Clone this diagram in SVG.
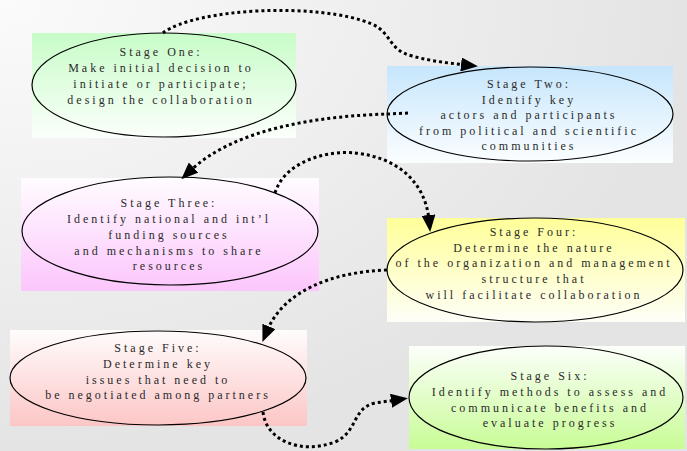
<svg xmlns="http://www.w3.org/2000/svg" width="687" height="451" viewBox="0 0 687 451">
<style>
.lbl{font-family:"Liberation Serif","Times New Roman",serif;font-size:12px;letter-spacing:3px;fill:#2a2a2a;text-anchor:middle}
.ell{fill:none;stroke:#000;stroke-width:1.2}
.con{fill:none;stroke:#000;stroke-width:3;stroke-dasharray:3 3;marker-end:url(#arr)}
</style>
<defs>
<radialGradient id="bg" cx="0" cy="0" r="1">
<stop offset="0" stop-color="#fbfbfb"/>
<stop offset="1" stop-color="#e4e4e4"/>
</radialGradient>
<linearGradient id="g1" x1="0" y1="0" x2="0" y2="1"><stop offset="0" stop-color="#c8fcc8"/><stop offset="1" stop-color="#fbfffb"/></linearGradient>
<linearGradient id="g2" x1="0" y1="0" x2="0" y2="1"><stop offset="0" stop-color="#c6e6fc"/><stop offset="1" stop-color="#fcfeff"/></linearGradient>
<linearGradient id="g3" x1="0" y1="0" x2="0" y2="1"><stop offset="0" stop-color="#fffcff"/><stop offset="1" stop-color="#fcc6fc"/></linearGradient>
<linearGradient id="g4" x1="0" y1="0" x2="0" y2="1"><stop offset="0" stop-color="#ffff99"/><stop offset="1" stop-color="#fefef8"/></linearGradient>
<linearGradient id="g5" x1="0" y1="0" x2="0" y2="1"><stop offset="0" stop-color="#fffcfc"/><stop offset="1" stop-color="#fcc6c6"/></linearGradient>
<linearGradient id="g6" x1="0" y1="0" x2="0" y2="1"><stop offset="0" stop-color="#fcfffa"/><stop offset="1" stop-color="#c8fc96"/></linearGradient>
<marker id="arr" markerUnits="userSpaceOnUse" markerWidth="17" markerHeight="14" viewBox="0 0 17 14" refX="5" refY="7" orient="auto">
<path d="M0,0 L17,7 L0,14 z" fill="#000"/>
</marker>
</defs>
<rect width="687" height="451" fill="url(#bg)"/>

<g id="stage1">
<rect x="32" y="33" width="264" height="105" fill="url(#g1)"/>
<ellipse class="ell" cx="164" cy="85" rx="132" ry="52"/>
<text class="lbl"><tspan x="161" y="56">Stage One:</tspan><tspan x="161" y="72">Make initial decision to</tspan><tspan x="161" y="88">initiate or participate;</tspan><tspan x="161" y="104">design the collaboration</tspan></text>
</g>

<g id="stage2">
<rect x="387" y="66" width="286" height="97" fill="url(#g2)"/>
<ellipse class="ell" cx="530" cy="114" rx="143" ry="47"/>
<text class="lbl"><tspan x="529" y="88">Stage Two:</tspan><tspan x="529" y="104">Identify key</tspan><tspan x="529" y="119">actors and participants</tspan><tspan x="529" y="135">from political and scientific</tspan><tspan x="529" y="150">communities</tspan></text>
</g>

<g id="stage3">
<rect x="21" y="178" width="298" height="113" fill="url(#g3)"/>
<ellipse class="ell" cx="170" cy="231" rx="148" ry="54"/>
<text class="lbl"><tspan x="169" y="207">Stage Three:</tspan><tspan x="169" y="223">Identify national and int’l</tspan><tspan x="169" y="239">funding sources</tspan><tspan x="169" y="255">and mechanisms to share</tspan><tspan x="169" y="270">resources</tspan></text>
</g>

<g id="stage4">
<rect x="387" y="218" width="298" height="104" fill="url(#g4)"/>
<ellipse class="ell" cx="535" cy="270" rx="148" ry="52"/>
<text class="lbl"><tspan x="534" y="236">Stage Four:</tspan><tspan x="534" y="252">Determine the nature</tspan><tspan x="534" y="267">of the organization and management</tspan><tspan x="534" y="283">structure that</tspan><tspan x="534" y="299">will facilitate collaboration</tspan></text>
</g>

<g id="stage5">
<rect x="10" y="330" width="297" height="96" fill="url(#g5)"/>
<ellipse class="ell" cx="158" cy="378" rx="148" ry="47"/>
<text class="lbl"><tspan x="158" y="352">Stage Five:</tspan><tspan x="158" y="368">Determine key</tspan><tspan x="158" y="384">issues that need to</tspan><tspan x="158" y="399">be negotiated among partners</tspan></text>
</g>

<g id="stage6">
<rect x="409" y="346" width="276" height="103" fill="url(#g6)"/>
<ellipse class="ell" cx="546" cy="397.5" rx="137" ry="51.5"/>
<text class="lbl"><tspan x="550" y="380">Stage Six:</tspan><tspan x="550" y="396">Identify methods to assess and</tspan><tspan x="550" y="412">communicate benefits and</tspan><tspan x="550" y="427">evaluate progress</tspan></text>
</g>

<g id="connectors">
<path class="con" d="M163,33 C195,8 320,2 372,24 C392,33 388,50 412,56 C430,61 448,63 466,65"/>
<path class="con" d="M408,113 L388,114 C320,116 235,128 190,171"/>
<path class="con" d="M275,193 C285,160 330,150 355,153 C395,157 425,180 429,220"/>
<path class="con" d="M387,270 C330,272 283,292 267,331"/>
<path class="con" d="M263,412 C266,440 300,455 335,442 C358,432 352,408 375,403 L396,400"/>
</g>
</svg>
